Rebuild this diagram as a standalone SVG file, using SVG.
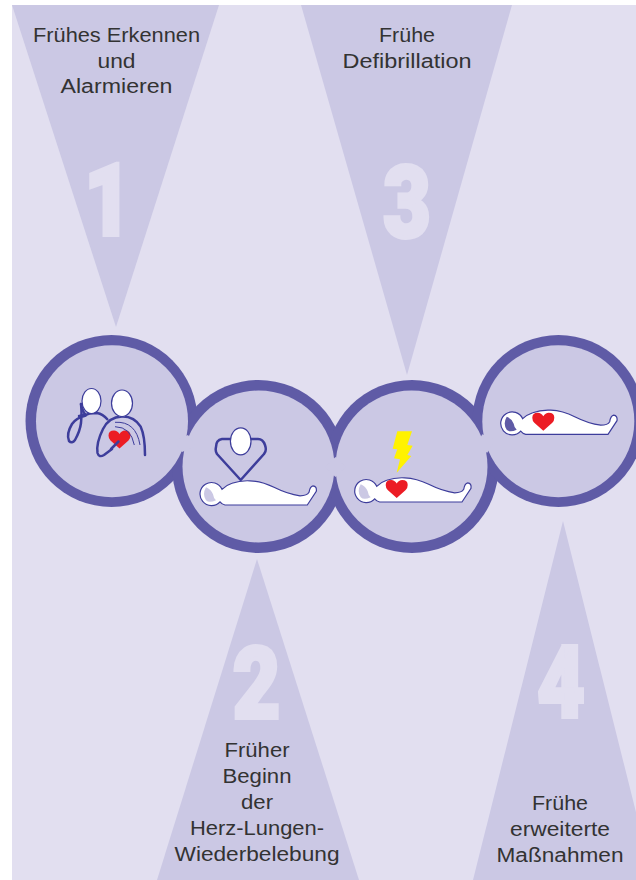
<svg xmlns="http://www.w3.org/2000/svg" width="636" height="880" viewBox="0 0 636 880">
<style>
.tri{fill:#cbc8e4}
.ring{fill:#5f5ba6}
.disc{fill:#cbc8e4}
.lab{font-family:"Liberation Sans",Arial,sans-serif;font-size:20px;fill:#333;text-anchor:middle}
.num{font-family:Roboto,"Liberation Sans",Arial,sans-serif;font-weight:900;font-size:100px;fill:#e2dff0;stroke:#e2dff0;stroke-width:4;text-anchor:middle}
.ln{fill:none;stroke:#3d3d9b;stroke-width:2.5;stroke-linecap:round;stroke-linejoin:round}
.thin{fill:none;stroke:#3d3d9b;stroke-width:1}
.wh{fill:#fff;stroke:#3d3d9b;stroke-width:1.2}
.ht{fill:#ec1c24}
</style>
<defs>
<path id="heart" class="ht" d="M0,9 L-9,1 Q-11,-1 -11,-4 Q-11,-9 -5.5,-9 Q-2,-9 0,-5.5 Q2,-9 5.5,-9 Q11,-9 11,-4 Q11,-1 9,1 Z"/>
<path id="body" class="wh" d="M10,-5 Q14,-9 20,-11 Q28,-14 38,-13.5 Q50,-13 62,-7 Q76,0 88,1.5 Q95,1.5 97,-2 Q98,-8 101,-8.5 Q105,-8 104.3,-3 L95.3,10.7 H13 Q10,10 8,7.5 A11.5,11.5 0 1 1 10,-5 Z"/>
<path id="cres" d="M-6,-7 Q-1,-5 1,0 Q1.5,4 4,6 Q-3,9 -6,6 Q-10,0 -6,-7Z"/>
</defs>
<rect x="12" y="5" width="624" height="875" fill="#e2dff0"/>
<g id="connectors"></g>
<g id="step1-label">
<polygon class="tri" points="12,5 219,5 116,327"/>
<text class="num" transform="translate(108,235) scale(.82,1)">1</text>
<text class="lab" x="116.5" y="41.5" textLength="167" lengthAdjust="spacingAndGlyphs">Frühes Erkennen</text>
<text class="lab" x="116.5" y="67.5" textLength="38" lengthAdjust="spacingAndGlyphs">und</text>
<text class="lab" x="116.5" y="93" textLength="112" lengthAdjust="spacingAndGlyphs">Alarmieren</text>
</g>
<g id="step3-label">
<polygon class="tri" points="301,5 512,5 407,375"/>
<text class="num" transform="translate(407,236.5) scale(.82,1)">3</text>
<text class="lab" x="407" y="41.5" textLength="56" lengthAdjust="spacingAndGlyphs">Frühe</text>
<text class="lab" x="407" y="67.5" textLength="129" lengthAdjust="spacingAndGlyphs">Defibrillation</text>
</g>
<g id="step2-label">
<polygon class="tri" points="257,559 359,880 157,880"/>
<text class="num" transform="translate(256.5,718) scale(.82,1)">2</text>
<text class="lab" x="257" y="757" textLength="65" lengthAdjust="spacingAndGlyphs">Früher</text>
<text class="lab" x="257" y="783" textLength="69" lengthAdjust="spacingAndGlyphs">Beginn</text>
<text class="lab" x="257" y="809" textLength="32" lengthAdjust="spacingAndGlyphs">der</text>
<text class="lab" x="257" y="835" textLength="134" lengthAdjust="spacingAndGlyphs">Herz-Lungen-</text>
<text class="lab" x="257" y="861" textLength="165" lengthAdjust="spacingAndGlyphs">Wiederbelebung</text>
</g>
<g id="step4-label">
<polygon class="tri" points="563,521 653,880 473,880"/>
<text class="num" transform="translate(561,716.5) scale(.82,1)">4</text>
<text class="lab" x="560" y="810" textLength="56" lengthAdjust="spacingAndGlyphs">Frühe</text>
<text class="lab" x="560" y="836" textLength="100" lengthAdjust="spacingAndGlyphs">erweiterte</text>
<text class="lab" x="560" y="862" textLength="127" lengthAdjust="spacingAndGlyphs">Maßnahmen</text>
</g>
<g id="chain">
<circle class="ring" cx="111.5" cy="421" r="86"/>
<circle class="ring" cx="258.5" cy="466.5" r="86.5"/>
<circle class="ring" cx="412" cy="466.5" r="86.5"/>
<circle class="ring" cx="558.5" cy="421" r="86"/>
<circle class="disc" cx="112" cy="421.2" r="76"/>
<circle class="disc" cx="258.5" cy="466.5" r="76"/>
<circle class="disc" cx="411.5" cy="466.5" r="76"/>
<circle class="disc" cx="558.3" cy="421.2" r="76"/>
<polygon class="disc" points="188,435 196,446 182,452 174,441"/>
<polygon class="disc" points="335.5,457 346,467 335.5,477 325,467"/>
<polygon class="disc" points="482.3,434.3 495,440 487.3,452.7 475,447"/>
</g>
<g id="icon1">
<path class="ln" d="M107.3,419.3 Q103,414 97,413 Q88,413 85,415.7 Q76,418 72,424 Q66,434 69,441 Q72,444 75,440 Q80,431 81,423 Q82,412 81,404"/>
<path class="ln" d="M81,404 Q83,413 86,415 M79,416 Q83,416 85,414" stroke-width="1.5"/>
<ellipse class="wh" cx="91.5" cy="401" rx="9.5" ry="12.5"/>
<path class="ln" d="M145,455 Q145,436 140.7,426.7 Q134,416 121.7,416.5 Q109,417 103,429 Q96,443 97.5,453 Q99,458 104,455 L112,449"/>
<use href="#heart" x="119.5" y="439.5"/>
<path class="ln" d="M118.5,441.5 L111,449 "/>
<path class="thin" d="M115,422.3 Q136,421 140,445 M115,426.7 Q131,427 134.3,445"/>
<ellipse class="wh" cx="122" cy="403.3" rx="10.5" ry="13.3"/>
</g>
<g id="icon2">
<use href="#body" x="212" y="494.3"/>
<use href="#cres" x="212" y="494.3" fill="#cbc8e4"/>
<path class="ln" d="M231,439 H222 Q216,440 216,447 Q215,451 217,454 L240.7,480 L264,454 Q267,451 265,445 Q263,439 258,439 H251"/>
<ellipse class="wh" cx="240.7" cy="441.3" rx="10.3" ry="13.5"/>
</g>
<g id="icon3">
<polygon fill="#fff200" points="397.3,431.3 412,431.3 407.3,445 412.7,445.7 407.3,455 411.3,456 396.7,472.7 400,459.3 394,458.3 397.3,449.3 392.7,448.7"/>
<use href="#body" x="366.7" y="491.3"/>
<use href="#cres" x="366.7" y="491.3" fill="#cbc8e4"/>
<use href="#heart" x="396.7" y="489"/>
</g>
<g id="icon4">
<use href="#body" x="512.7" y="423.7"/>
<use href="#cres" x="512.7" y="423.7" fill="#5f5ba6"/>
<use href="#heart" x="543.3" y="421.7"/>
</g>
</svg>
